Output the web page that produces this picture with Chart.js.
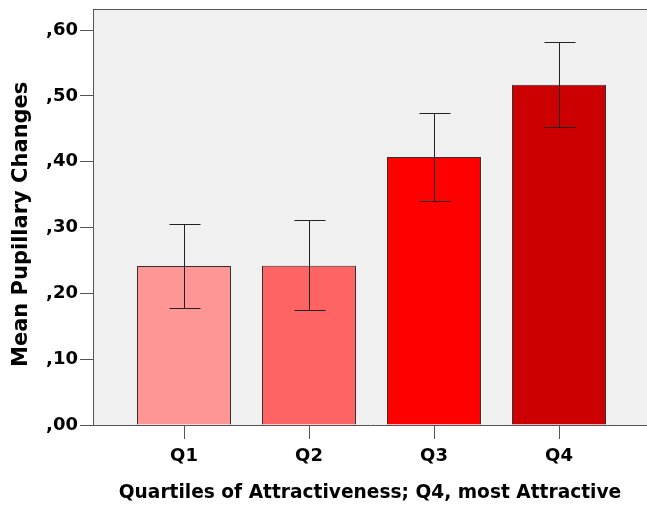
<!DOCTYPE html>
<html lang="en">
<head>
    <meta charset="UTF-8">
    <title>Mean Pupillary Changes by Attractiveness Quartile</title>
    <script src="https://cdn.jsdelivr.net/npm/chart.js"></script>
    <style>
        html, body { margin: 0; padding: 0; background: #fff; }
        #wrap { width: 647px; height: 506px; }
    </style>
</head>
<body>
    <div id="wrap"><canvas id="pupilChart" width="647" height="506"></canvas></div>

    <script>
        // Data
        var categories = ['Q1', 'Q2', 'Q3', 'Q4'];
        var meanValues = [0.2415, 0.242, 0.407, 0.517];
        var errLow = [0.178, 0.1745, 0.340, 0.452];
        var errHigh = [0.305, 0.311, 0.4735, 0.5815];
        var yTicks = [0, 0.1, 0.2, 0.3, 0.4, 0.5, 0.6];
        var barColors = ['#ff9696', '#ff6464', '#ff0000', '#cc0000'];

        var points = categories.map(function (c, i) {
            return { x: i + 1, y: meanValues[i] };
        });

        var labelFont = '"DejaVu Sans", Arial, sans-serif';
        var xMin = 0.272, xMax = 4.704;

        // Gray plot background, top frame line and x tick marks
        var frame = {
            id: 'frame',
            beforeDraw: function (chart) {
                var a = chart.chartArea, ctx = chart.ctx;
                ctx.save();
                ctx.fillStyle = '#f0f0f0';
                ctx.fillRect(a.left, a.top, a.right - a.left, a.bottom - a.top);
                ctx.restore();
            },
            afterDraw: function (chart) {
                var a = chart.chartArea, ctx = chart.ctx;
                var xs = chart.scales.x;
                ctx.save();
                ctx.fillStyle = '#555';
                ctx.fillRect(a.left, a.top, a.right - a.left, 1);
                categories.forEach(function (c, i) {
                    var x = Math.round(xs.getPixelForValue(i + 1));
                    ctx.fillRect(x, a.bottom, 1, 14);
                });
                ctx.restore();
            }
        };

        // Error bars from errLow / errHigh
        var errorBars = {
            id: 'errorBars',
            afterDatasetsDraw: function (chart) {
                var ctx = chart.ctx;
                var xs = chart.scales.x, ys = chart.scales.y;
                ctx.save();
                ctx.strokeStyle = '#222';
                ctx.lineWidth = 1;
                categories.forEach(function (c, i) {
                    var x = Math.round(xs.getPixelForValue(i + 1)) + 0.5;
                    var yl = Math.round(ys.getPixelForValue(errLow[i])) + 0.5;
                    var yh = Math.round(ys.getPixelForValue(errHigh[i])) + 0.5;
                    ctx.beginPath();
                    ctx.moveTo(x, yl);
                    ctx.lineTo(x, yh);
                    ctx.moveTo(x - 15, yl);
                    ctx.lineTo(x + 16, yl);
                    ctx.moveTo(x - 15, yh);
                    ctx.lineTo(x + 16, yh);
                    ctx.stroke();
                });
                ctx.restore();
            }
        };

        var ctx = document.getElementById('pupilChart').getContext('2d');
        var myChart = new Chart(ctx, {
            type: 'bar',
            data: {
                datasets: [{
                    data: points,
                    xAxisID: 'x',
                    backgroundColor: barColors,
                    borderColor: '#333',
                    borderWidth: 1,
                    barPercentage: 0.752,
                    categoryPercentage: 1.0
                }]
            },
            options: {
                responsive: false,
                animation: false,
                layout: { padding: { top: 9, right: 0, left: 0, bottom: 0 } },
                plugins: {
                    legend: { display: false },
                    tooltip: { enabled: false }
                },
                scales: {
                    // thin helper axis: its offset grid lines land on the category centres
                    xt: {
                        type: 'linear',
                        position: 'bottom',
                        weight: 0,
                        min: xMin,
                        max: xMax,
                        offset: false,
                        afterBuildTicks: function (scale) {
                            var t = [];
                            for (var i = 0; i <= categories.length; i++) t.push({ value: i + 0.5 });
                            scale.ticks = t;
                        },
                        afterFit: function (scale) {
                            scale.height = 0;
                            scale.paddingLeft = 0;
                            scale.paddingRight = 0;
                        },
                        grid: {
                            offset: true,
                            drawOnChartArea: false,
                            drawTicks: true,
                            tickLength: 14,
                            color: '#555'
                        },
                        border: { display: false },
                        ticks: { display: false }
                    },
                    x: {
                        type: 'linear',
                        position: 'bottom',
                        weight: 1,
                        min: xMin,
                        max: xMax,
                        offset: false,
                        afterBuildTicks: function (scale) {
                            scale.ticks = categories.map(function (c, i) { return { value: i + 1 }; });
                        },
                        afterFit: function (scale) {
                            scale.height = 81;
                            scale.paddingLeft = 0;
                            scale.paddingRight = 0;
                        },
                        grid: {
                            offset: false,
                            drawOnChartArea: false,
                            drawTicks: false,
                            color: '#555'
                        },
                        border: { display: true, color: '#555' },
                        ticks: {
                            autoSkip: false,
                            maxRotation: 0,
                            padding: 21,
                            color: '#000',
                            font: { family: labelFont, size: 18, weight: 'bold' },
                            callback: function (v) { return categories[v - 1]; }
                        },
                        title: {
                            display: true,
                            text: 'Quartiles of Attractiveness; Q4, most Attractive',
                            color: '#000',
                            font: { family: labelFont, size: 18.6, weight: 'bold' },
                            padding: { top: 6, bottom: 2 }
                        }
                    },
                    y: {
                        min: 0,
                        max: 0.632,
                        afterBuildTicks: function (scale) {
                            scale.ticks = yTicks.map(function (v) { return { value: v }; });
                        },
                        afterFit: function (scale) {
                            scale.width = 93;
                            scale.paddingTop = 0;
                            scale.paddingBottom = 0;
                        },
                        grid: {
                            drawOnChartArea: false,
                            drawTicks: true,
                            tickLength: 13,
                            color: '#555'
                        },
                        border: { display: true, color: '#555' },
                        ticks: {
                            padding: 2,
                            color: '#000',
                            font: { family: labelFont, size: 18, weight: 'bold' },
                            callback: function (v) { return ',' + v.toFixed(2).slice(2); }
                        },
                        title: {
                            display: true,
                            text: 'Mean Pupillary Changes  ',
                            color: '#000',
                            font: { family: labelFont, size: 21, weight: 'bold' },
                            padding: { top: 9, bottom: 4 }
                        }
                    }
                }
            },
            plugins: [frame, errorBars]
        });
    </script>
</body>
</html>
